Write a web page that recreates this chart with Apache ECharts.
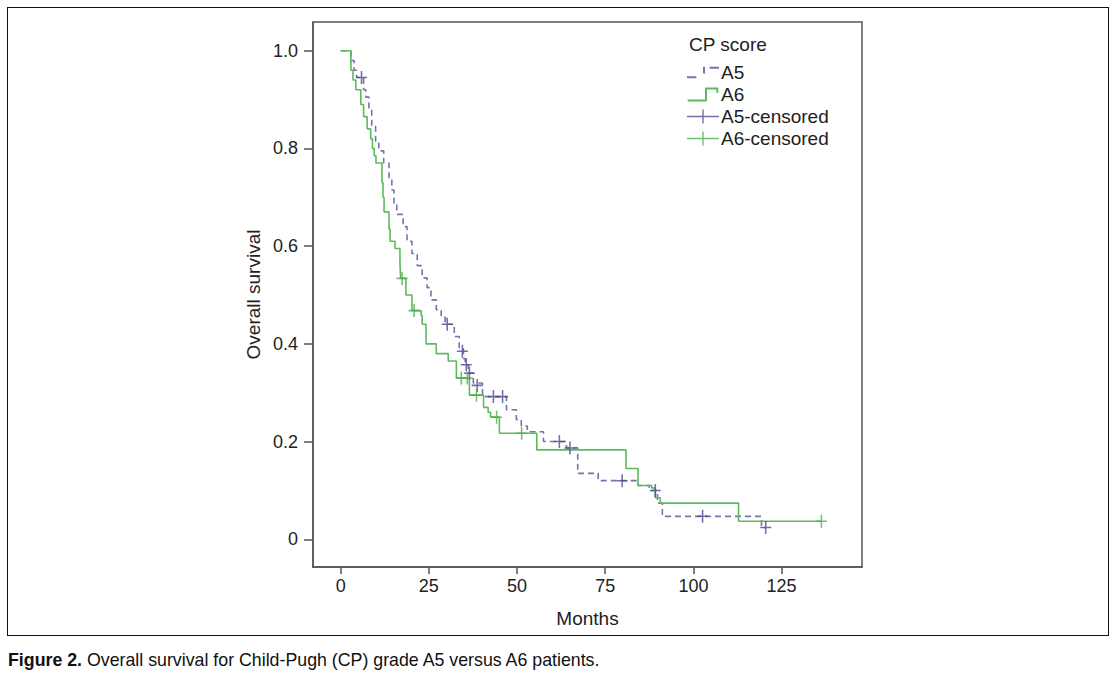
<!DOCTYPE html>
<html>
<head>
<meta charset="utf-8">
<script src="https://cdn.jsdelivr.net/npm/echarts@6/dist/echarts.min.js"></script>
<style>
  html, body { margin: 0; padding: 0; background: #fff; }
  #frame { position: absolute; left: 7px; top: 7px; width: 1102px; height: 629px; border: 1.5px solid #111; box-sizing: border-box; }
  #chart { position: absolute; left: 0; top: 0; width: 1118px; height: 676px; }
  #caption { position: absolute; left: 8px; top: 649px; font-family: "Liberation Sans", Arial, sans-serif; font-size: 19px; color: #111; white-space: nowrap; transform: scaleX(0.935); transform-origin: 0 0; }
  #caption b { font-weight: bold; }
</style>
</head>
<body>
<div id="frame"></div>
<div id="chart"></div>
<div id="caption"><b>Figure 2.</b> Overall survival for Child-Pugh (CP) grade A5 versus A6 patients.</div>
<script>
// ---- Data (months, survival) ----
const legendTitle = "CP score";
const xTicks = [0, 25, 50, 75, 100, 125];
const yTicks = [0, 0.2, 0.4, 0.6, 0.8, 1.0];

const a5Curve = [
  [0, 1.0], [2.9, 0.98], [3.8, 0.96], [4.5, 0.945], [6.5, 0.92], [7.1, 0.905],
  [8.0, 0.883], [8.8, 0.845], [9.9, 0.815], [10.8, 0.795], [12.2, 0.77],
  [13.7, 0.74], [14.5, 0.715], [15.1, 0.685], [15.9, 0.665], [17.7, 0.64],
  [18.8, 0.61], [20.2, 0.585], [21.7, 0.56], [23.1, 0.535], [24.5, 0.515],
  [25.6, 0.49], [27.1, 0.47], [28.5, 0.455], [29.6, 0.44], [32.2, 0.415],
  [33.6, 0.39], [34.8, 0.37], [35.3, 0.357], [36.2, 0.34], [37.6, 0.32],
  [40.2, 0.292], [47.0, 0.265], [49.8, 0.245], [51.2, 0.232], [52.9, 0.22],
  [57.5, 0.2], [64.0, 0.187], [67.2, 0.135], [73.0, 0.12], [84.3, 0.11],
  [87.5, 0.1], [89.8, 0.074], [91.2, 0.047], [119.3, 0.024], [120.5, 0.024]
];
const a6Curve = [
  [0, 1.0], [2.9, 0.96], [3.5, 0.94], [4.3, 0.92], [5.7, 0.89], [6.5, 0.865],
  [7.5, 0.84], [8.5, 0.82], [9.0, 0.80], [9.5, 0.785], [10.0, 0.77],
  [11.7, 0.73], [12.0, 0.70], [12.3, 0.67], [13.7, 0.635], [14.0, 0.61],
  [15.4, 0.595], [16.8, 0.565], [17.0, 0.534], [18.5, 0.50], [20.2, 0.468],
  [22.8, 0.458], [23.1, 0.44], [24.2, 0.40], [27.1, 0.38], [30.5, 0.365],
  [32.8, 0.33], [36.5, 0.295], [40.5, 0.27], [41.8, 0.26], [42.5, 0.25],
  [45.0, 0.217], [55.6, 0.183], [80.9, 0.145], [84.3, 0.11], [88.2, 0.105],
  [89.2, 0.085], [90.6, 0.074], [112.8, 0.037], [136.3, 0.037]
];
const a5Censored = [
  [5.9, 0.945], [30.2, 0.44], [34.5, 0.385], [35.6, 0.357], [36.5, 0.34],
  [38.7, 0.315], [43.3, 0.292], [45.9, 0.292], [62.0, 0.2], [65.0, 0.187],
  [79.8, 0.12], [89.2, 0.1], [102.6, 0.047], [120.5, 0.024]
];
const a6Censored = [
  [17.4, 0.534], [20.8, 0.468], [34.2, 0.33], [35.9, 0.33], [38.5, 0.295],
  [44.2, 0.25], [51.3, 0.217], [136.3, 0.037]
];

const A5_LINE = '#7474aa';
const A5_MARK = '#4b4b95';
const A6_LINE = '#5dba5d';
const A6_MARK = '#4fae4f';
const AXIS = '#555';
const FONT = '"Liberation Sans", Arial, sans-serif';

const plusPath = 'path://M0,5.3h10v1.4H0z M4.3,0h1.4v12H4.3z';

const chart = echarts.init(document.getElementById('chart'), null, { renderer: 'svg' });
chart.setOption({
  animation: false,
  backgroundColor: 'transparent',
  title: {
    text: legendTitle, left: 684, top: 30,
    textStyle: { fontFamily: FONT, fontSize: 19, fontWeight: 'normal', color: '#222' }
  },
  legend: {
    orient: 'vertical', left: 682, top: 58, itemWidth: 32, itemHeight: 14, itemGap: 3,
    textStyle: { fontFamily: FONT, fontSize: 19, color: '#222', padding: [0, 0, 0, -3] },
    itemStyle: { borderWidth: 0 },
    data: [
      { name: 'A5', icon: 'path://M0,11h7v1.5H0z M12,4h1.5v5H12z M17,4h7v1.5h-7z', itemStyle: { color: A5_LINE, borderWidth: 0 } },
      { name: 'A6', icon: 'path://M0,12h14v1.5H0z M13,3h1.5v10H13z M13,3h10v1.5H13z M21.5,3h1.5v4h-1.5z', itemStyle: { color: A6_LINE, borderWidth: 0 } },
      { name: 'A5-censored', icon: 'path://M0,6.3h32v1.4H0z M15.3,0h1.4v14h-1.4z', itemStyle: { color: A5_MARK, borderWidth: 0 } },
      { name: 'A6-censored', icon: 'path://M0,6.3h32v1.4H0z M15.3,0h1.4v14h-1.4z', itemStyle: { color: A6_MARK, borderWidth: 0 } }
    ]
  },
  grid: {
    left: 313, top: 22, right: 256, bottom: 109, show: true,
    borderColor: AXIS, borderWidth: 1.5, backgroundColor: '#fff'
  },
  xAxis: {
    type: 'value', min: -7.85, max: 147.8,
    name: 'Months', nameLocation: 'middle', nameGap: 42,
    nameTextStyle: { fontFamily: FONT, fontSize: 19, color: '#222' },
    axisLine: { show: true, onZero: false, lineStyle: { color: AXIS, width: 1.5 } },
    axisTick: { show: true, length: 7, lineStyle: { color: AXIS, width: 1.5 }, customValues: xTicks },
    axisLabel: { customValues: xTicks, margin: 10, fontFamily: FONT, fontSize: 18, color: '#222',
      formatter: v => String(v) },
    splitLine: { show: false }
  },
  yAxis: {
    type: 'value', min: -0.0567, max: 1.0587,
    name: 'Overall survival', nameLocation: 'middle', nameGap: 50, nameRotate: 90,
    nameTextStyle: { fontFamily: FONT, fontSize: 19, color: '#222' },
    axisLine: { show: true, onZero: false, lineStyle: { color: AXIS, width: 1.5 } },
    axisTick: { show: true, length: 9, lineStyle: { color: AXIS, width: 1.5 }, customValues: yTicks },
    axisLabel: { customValues: yTicks, margin: 15, fontFamily: FONT, fontSize: 18, color: '#222',
      formatter: v => (Math.abs(v) < 1e-9 ? '0' : v.toFixed(1)) },
    splitLine: { show: false }
  },
  series: [
    { name: 'A5', type: 'line', step: 'end', data: a5Curve, symbol: 'none',
      lineStyle: { color: A5_LINE, width: 1.6, type: [6, 4] }, itemStyle: { color: A5_LINE }, z: 2 },
    { name: 'A6', type: 'line', step: 'end', data: a6Curve, symbol: 'none',
      lineStyle: { color: A6_LINE, width: 1.6 }, itemStyle: { color: A6_LINE }, z: 3 },
    { name: 'A5-censored', type: 'scatter', data: a5Censored, symbol: plusPath, symbolSize: [11, 13],
      itemStyle: { color: A5_MARK }, z: 4 },
    { name: 'A6-censored', type: 'scatter', data: a6Censored, symbol: plusPath, symbolSize: [11, 13],
      itemStyle: { color: A6_MARK }, z: 5 }
  ]
});
</script>
</body>
</html>
